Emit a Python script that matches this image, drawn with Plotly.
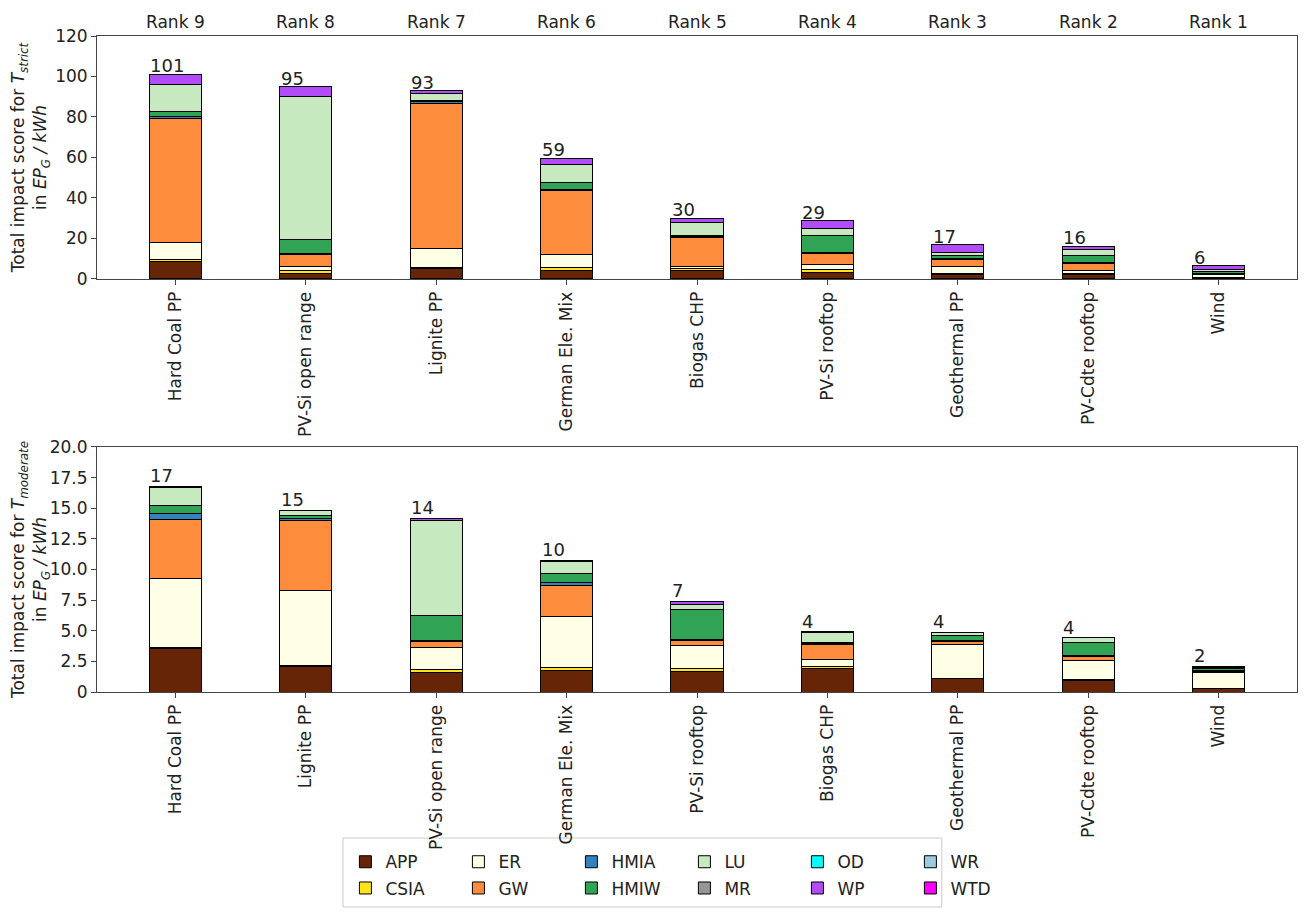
import plotly.graph_objects as go

# ---------------- data ----------------
components = ["APP", "CSIA", "ER", "GW", "HMIA", "HMIW", "LU", "MR", "OD", "WP", "WR", "WTD"]
colors = {
    "APP": "#662506", "CSIA": "#ffe31c", "ER": "#ffffe5", "GW": "#fd8d3c",
    "HMIA": "#3182bd", "HMIW": "#31a354", "LU": "#c7e9c0", "MR": "#969696",
    "OD": "#00ffff", "WP": "#b24cf9", "WR": "#9ecae1", "WTD": "#ff00ff",
}

# upper panel (T_strict)
cats_strict = ["Hard Coal PP", "PV-Si open range", "Lignite PP", "German Ele. Mix", "Biogas CHP",
               "PV-Si rooftop", "Geothermal PP", "PV-Cdte rooftop", "Wind"]
ranks_strict = ["Rank 9", "Rank 8", "Rank 7", "Rank 6", "Rank 5", "Rank 4", "Rank 3", "Rank 2", "Rank 1"]
labels_strict = ["101", "95", "93", "59", "30", "29", "17", "16", "6"]
strict_APP = [8.7, 2.8, 5.2, 4.0, 4.0, 3.2, 2.3, 2.3, 0.5]
strict_CSIA = [0.7, 1.6, 0.7, 1.6, 1.2, 1.6, 0.3, 0.3, 0.1]
strict_ER = [8.4, 2.0, 9.2, 6.3, 1.1, 2.4, 3.7, 1.7, 1.6]
strict_GW = [61.5, 5.9, 71.6, 31.9, 14.3, 5.6, 3.5, 3.3, 0.3]
strict_HMIA = [0.8, 0.4, 0.8, 0.6, 0.3, 0.4, 0.4, 0.4, 0.2]
strict_HMIW = [2.5, 7.0, 0.8, 3.3, 0.5, 8.4, 1.5, 3.7, 1.2]
strict_LU = [13.4, 70.5, 3.4, 9.0, 6.6, 3.3, 1.4, 2.8, 0.8]
strict_MR = [0, 0, 0, 0, 0, 0, 0, 0, 0]
strict_OD = [0, 0, 0, 0, 0, 0, 0, 0, 0]
strict_WP = [5.2, 4.8, 1.2, 2.9, 2.1, 3.9, 3.9, 1.6, 1.9]
strict_WR = [0, 0, 0, 0, 0, 0, 0, 0, 0]
strict_WTD = [0, 0, 0, 0, 0, 0, 0, 0, 0]

# lower panel (T_moderate)
cats_mod = ["Hard Coal PP", "Lignite PP", "PV-Si open range", "German Ele. Mix", "PV-Si rooftop",
            "Biogas CHP", "Geothermal PP", "PV-Cdte rooftop", "Wind"]
labels_mod = ["17", "15", "14", "10", "7", "4", "4", "4", "2"]
mod_APP = [3.55, 2.10, 1.63, 1.77, 1.71, 1.91, 1.09, 0.95, 0.27]
mod_CSIA = [0.10, 0.10, 0.19, 0.22, 0.20, 0.19, 0.05, 0.05, 0.02]
mod_ER = [5.65, 6.10, 1.85, 4.20, 1.85, 0.57, 2.73, 1.59, 1.34]
mod_GW = [4.80, 5.66, 0.44, 2.50, 0.46, 1.20, 0.29, 0.27, 0.05]
mod_HMIA = [0.43, 0.24, 0.10, 0.23, 0.08, 0.10, 0.05, 0.10, 0.05]
mod_HMIW = [0.71, 0.20, 2.05, 0.73, 2.42, 0.09, 0.42, 1.12, 0.20]
mod_LU = [1.49, 0.38, 7.70, 1.00, 0.41, 0.79, 0.22, 0.33, 0.10]
mod_MR = [0, 0, 0, 0, 0, 0, 0, 0, 0]
mod_OD = [0, 0, 0, 0, 0, 0, 0, 0, 0]
mod_WP = [0.07, 0.07, 0.24, 0.10, 0.27, 0.05, 0.03, 0.02, 0.07]
mod_WR = [0, 0, 0, 0, 0, 0, 0, 0, 0]
mod_WTD = [0, 0, 0, 0, 0, 0, 0, 0, 0]

y_ticks_strict = [0, 20, 40, 60, 80, 100, 120]
y_ticks_mod = [0, 2.5, 5.0, 7.5, 10.0, 12.5, 15.0, 17.5, 20.0]
y_ticktext_mod = ["0", "2.5", "5.0", "7.5", "10.0", "12.5", "15.0", "17.5", "20.0"]

strict = {"APP": strict_APP, "CSIA": strict_CSIA, "ER": strict_ER, "GW": strict_GW,
          "HMIA": strict_HMIA, "HMIW": strict_HMIW, "LU": strict_LU, "MR": strict_MR,
          "OD": strict_OD, "WP": strict_WP, "WR": strict_WR, "WTD": strict_WTD}
moderate = {"APP": mod_APP, "CSIA": mod_CSIA, "ER": mod_ER, "GW": mod_GW,
            "HMIA": mod_HMIA, "HMIW": mod_HMIW, "LU": mod_LU, "MR": mod_MR,
            "OD": mod_OD, "WP": mod_WP, "WR": mod_WR, "WTD": mod_WTD}

legend_row1 = ["APP", "ER", "HMIA", "LU", "OD", "WR"]

# ---------------- figure ----------------
FONT = "DejaVu Sans"
fig = go.Figure()

for comp in components:
    leg = "legend" if comp in legend_row1 else "legend2"
    rank = components.index(comp)
    fig.add_trace(go.Bar(
        x=cats_strict, y=strict[comp], name=comp, xaxis="x", yaxis="y",
        marker=dict(color=colors[comp], line=dict(color="black", width=1)),
        width=0.4, legend=leg, legendrank=rank, showlegend=True,
    ))
    fig.add_trace(go.Bar(
        x=cats_mod, y=moderate[comp], name=comp, xaxis="x2", yaxis="y2",
        marker=dict(color=colors[comp], line=dict(color="black", width=1)),
        width=0.4, legend=leg, showlegend=False,
    ))

annotations = []
tot_strict = [sum(strict[c][i] for c in components) for i in range(len(cats_strict))]
tot_mod = [sum(moderate[c][i] for c in components) for i in range(len(cats_mod))]
for i, c in enumerate(cats_strict):
    annotations.append(dict(x=c, y=tot_strict[i], xref="x", yref="y", text=labels_strict[i],
                            showarrow=False, xanchor="left", yanchor="bottom", xshift=-27, yshift=-4,
                            font=dict(size=18, color="#222", family=FONT)))
    annotations.append(dict(x=c, y=1, xref="x", yref="y domain", text=ranks_strict[i],
                            showarrow=False, xanchor="center", yanchor="bottom", yshift=2,
                            font=dict(size=17, color="#222", family=FONT)))
for i, c in enumerate(cats_mod):
    annotations.append(dict(x=c, y=tot_mod[i], xref="x2", yref="y2", text=labels_mod[i],
                            showarrow=False, xanchor="left", yanchor="bottom", xshift=-27, yshift=-2,
                            font=dict(size=18, color="#222", family=FONT)))

axis_common = dict(showline=True, linecolor="#444", linewidth=1, mirror=True, ticks="outside",
                   ticklen=5, tickcolor="#444", showgrid=False, zeroline=False,
                   tickfont=dict(size=17, color="#222", family=FONT))

# the page adds an 8px body margin, so the figure is sized/offset to compensate
fig.update_layout(
    width=1301, height=905,
    margin=dict(l=89, r=12, t=28, b=221, autoexpand=False),
    paper_bgcolor="white", plot_bgcolor="white",
    barmode="stack",
    font=dict(family=FONT, size=17, color="#222"),
    xaxis=dict(domain=[0, 1], anchor="y", type="category", categoryorder="array",
               categoryarray=cats_strict, range=[-0.6, 8.6], tickangle=-90, **axis_common),
    yaxis=dict(domain=[0.6296, 1], anchor="x", range=[0, 120], tickvals=y_ticks_strict,
               title=dict(text="Total impact score for <i>T</i><sub><i>strict</i></sub><br>in <i>EP</i><sub><i>G</i></sub><i> / kWh</i>",
                          font=dict(size=17, family=FONT, color="#222"), standoff=4),
               **axis_common),
    xaxis2=dict(domain=[0, 1], anchor="y2", type="category", categoryorder="array",
                categoryarray=cats_mod, range=[-0.6, 8.6], tickangle=-90, **axis_common),
    yaxis2=dict(domain=[0, 0.3735], anchor="x2", range=[0, 20], tickvals=y_ticks_mod,
                ticktext=y_ticktext_mod,
                title=dict(text="Total impact score for <i>T</i><sub><i>moderate</i></sub><br>in <i>EP</i><sub><i>G</i></sub><i> / kWh</i>",
                           font=dict(size=17, family=FONT, color="#222"), standoff=4),
                **axis_common),
    annotations=annotations,
    legend=dict(orientation="h", x=0.207, xanchor="left", y=-0.232, yanchor="top",
                entrywidth=68, entrywidthmode="pixels", traceorder="normal",
                font=dict(size=17, family=FONT, color="#222"), bgcolor="rgba(0,0,0,0)"),
    legend2=dict(orientation="h", x=0.207, xanchor="left", y=-0.272, yanchor="top",
                 entrywidth=68, entrywidthmode="pixels", traceorder="normal",
                 font=dict(size=17, family=FONT, color="#222"), bgcolor="rgba(0,0,0,0)"),
    shapes=[dict(type="rect", xref="paper", yref="paper", x0=0.205, x1=0.704, y0=-0.3277, y1=-0.2226,
                 line=dict(color="#cccccc", width=1), fillcolor="rgba(0,0,0,0)", layer="below")],
)

fig.write_html("out.html")
